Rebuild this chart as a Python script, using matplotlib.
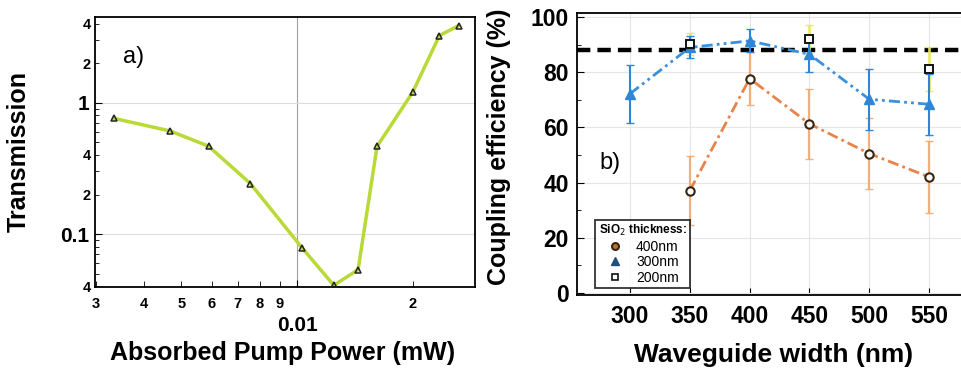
import numpy as np
import matplotlib
matplotlib.use("Agg")
import matplotlib.pyplot as plt
from matplotlib.ticker import FixedLocator, FixedFormatter
from matplotlib.lines import Line2D

plt.rcParams['font.family'] = ['Liberation Sans', 'DejaVu Sans']

# ---- Panel a data ----
power_mw = [0.00334, 0.00467, 0.00588, 0.00756, 0.01029, 0.01245, 0.0144, 0.01613, 0.01996, 0.02344, 0.0263]
transmission = [0.76, 0.61, 0.467, 0.242, 0.0786, 0.0407, 0.0534, 0.465, 1.20, 3.25, 3.87]

# ---- Panel b data ----
width_400 = [350, 400, 450, 500, 550]
eff_400 = [37.1, 77.7, 61.3, 50.5, 42.0]
err_400 = [12.5, 9.5, 12.6, 13.0, 13.0]

width_300 = [300, 350, 400, 450, 500, 550]
eff_300 = [72.2, 89.0, 91.4, 86.5, 70.2, 68.4]
err_300 = [10.6, 4.0, 4.2, 6.5, 11.0, 11.0]

width_200 = [350, 450, 550]
eff_200 = [90.4, 92.0, 81.3]
err_200 = [4.0, 5.0, 8.0]

ref_level = 88.0

fig = plt.figure(figsize=(9.61, 3.71), dpi=100)

# ---------------- Panel a ----------------
ax1 = fig.add_axes([95/961, 1-287/371, 380/961, 270/371])
ax1.plot(power_mw, transmission, color='#b8d936', lw=2.5, zorder=2)
ax1.plot(power_mw, transmission, ls='none', marker='^', ms=5, mfc='none',
         mec='#222222', mew=1.1, zorder=3)
ax1.set_xscale('log')
ax1.set_yscale('log')
ax1.set_xlim(0.00298, 0.029)
ax1.set_ylim(0.0395, 4.5)

ax1.xaxis.set_major_locator(FixedLocator([0.01]))
ax1.xaxis.set_major_formatter(FixedFormatter(['0.01']))
xmin = [0.003, 0.004, 0.005, 0.006, 0.007, 0.008, 0.009, 0.02]
ax1.xaxis.set_minor_locator(FixedLocator(xmin))
ax1.xaxis.set_minor_formatter(FixedFormatter(['3', '4', '5', '6', '7', '8', '9', '2']))

ax1.yaxis.set_major_locator(FixedLocator([0.1, 1]))
ax1.yaxis.set_major_formatter(FixedFormatter(['0.1', '1']))
ymin = [0.04, 0.05, 0.06, 0.07, 0.08, 0.09, 0.2, 0.3, 0.4, 0.5, 0.6, 0.7, 0.8, 0.9, 2, 3, 4]
ylab = ['4', '', '', '', '', '', '2', '', '4', '', '', '', '', '', '2', '', '4']
ax1.yaxis.set_minor_locator(FixedLocator(ymin))
ax1.yaxis.set_minor_formatter(FixedFormatter(ylab))

ax1.tick_params(axis='x', which='major', direction='in', length=5, pad=21,
                labelsize=15)
ax1.tick_params(axis='x', which='minor', direction='in', length=4, pad=7,
                labelsize=10.5)
ax1.tick_params(axis='y', which='major', direction='in', length=5, pad=4,
                labelsize=15)
ax1.tick_params(axis='y', which='minor', direction='in', length=3, pad=3,
                labelsize=10.5)
for lbl in ax1.get_xticklabels(which='both') + ax1.get_yticklabels(which='both'):
    lbl.set_fontweight('bold')

ax1.axvline(0.01, color='#a0a0a0', lw=0.8, zorder=1)
for yv in [0.1, 1]:
    ax1.axhline(yv, color='#dddddd', lw=0.8, zorder=1)
for sp in ax1.spines.values():
    sp.set_linewidth(1.3)

ax1.set_xlabel('Absorbed Pump Power (mW)', fontsize=18, fontweight='bold')
ax1.xaxis.set_label_coords(0.493, -0.20)
ax1.set_ylabel('Transmission', fontsize=18, fontweight='bold')
ax1.yaxis.set_label_coords(-0.168, 0.5)
ax1.text(0.074, 0.852, 'a)', transform=ax1.transAxes, fontsize=17, va='center')

# ---------------- Panel b ----------------
ax2 = fig.add_axes([577/961, 1-295/371, 400/961, 282/371])
ax2.set_xlim(255.7, 590)
ax2.set_ylim(-0.8, 101.5)

ax2.axhline(ref_level, color='black', lw=3.2, ls=(0, (3, 1.6)), zorder=2)

ax2.errorbar(width_200, eff_200, yerr=err_200, fmt='none', ecolor='#e6ea5a',
             elinewidth=2.0, capsize=3, alpha=0.9, zorder=3)
ax2.errorbar(width_400, eff_400, yerr=err_400, fmt='none', ecolor='#f0a468',
             elinewidth=1.6, capsize=3, alpha=0.85, zorder=3)
ax2.errorbar(width_300, eff_300, yerr=err_300, fmt='none', ecolor='#2f86d6',
             elinewidth=1.5, capsize=3, zorder=3)

ax2.plot(width_400, eff_400, color='#e8834a', lw=2.0, ls=(0, (4, 1.5, 1, 1.5)),
         zorder=4)
ax2.plot(width_300, eff_300, color='#3a90dc', lw=2.0, ls=(0, (4, 1.5, 1, 1.5, 1, 1.5)),
         zorder=4)

ax2.plot(width_400, eff_400, ls='none', marker='o', ms=6, mfc='white',
         mec='#3a2510', mew=1.5, zorder=5)
ax2.plot(width_300, eff_300, ls='none', marker='^', ms=7, color='#2f86d6',
         zorder=5)
ax2.plot(width_200, eff_200, ls='none', marker='s', ms=6, mfc='white',
         mec='#111111', mew=1.4, zorder=6)

ax2.set_xticks([300, 350, 400, 450, 500, 550])
ax2.set_yticks([0, 20, 40, 60, 80, 100])
ax2.set_yticks([10, 30, 50, 70, 90], minor=True)
ax2.tick_params(axis='both', which='major', direction='in', length=5,
                labelsize=16.5, pad=6)
ax2.tick_params(axis='x', which='major', pad=7)
ax2.tick_params(axis='y', which='minor', direction='in', length=3)
for lbl in ax2.get_xticklabels() + ax2.get_yticklabels():
    lbl.set_fontweight('bold')
ax2.grid(True, which='major', color='#e6e6e6', lw=0.8)
ax2.set_axisbelow(True)
for sp in ax2.spines.values():
    sp.set_linewidth(1.3)

ax2.set_xlabel('Waveguide width (nm)', fontsize=19, fontweight='bold')
ax2.xaxis.set_label_coords(0.491, -0.17)
ax2.set_ylabel('Coupling efficiency (%)', fontsize=18, fontweight='bold')
ax2.yaxis.set_label_coords(-0.165, 0.525)
ax2.text(0.055, 0.468, 'b)', transform=ax2.transAxes, fontsize=17, va='center')

handles = [
    Line2D([], [], ls='none', marker='o', ms=5, mfc='#c07030', mec='#3a2510', mew=1.5),
    Line2D([], [], ls='none', marker='^', ms=6, color='#1f4e7a'),
    Line2D([], [], ls='none', marker='s', ms=5, mfc='white', mec='#111111', mew=1.2),
]
leg = ax2.legend(handles, ['400nm', '300nm', '200nm'],
                 title='SiO$_2$ thickness:', loc='lower left',
                 bbox_to_anchor=(0.028, 0.0), fontsize=10,
                 title_fontproperties={'weight': 'bold', 'size': 8.5},
                 frameon=True, fancybox=False, edgecolor='black',
                 handletextpad=0.9, borderpad=0.25, labelspacing=0.1,
                 handlelength=1.2)
leg.get_frame().set_linewidth(1.3)
leg.set_zorder(10)

fig.savefig('out.png', dpi=100)
